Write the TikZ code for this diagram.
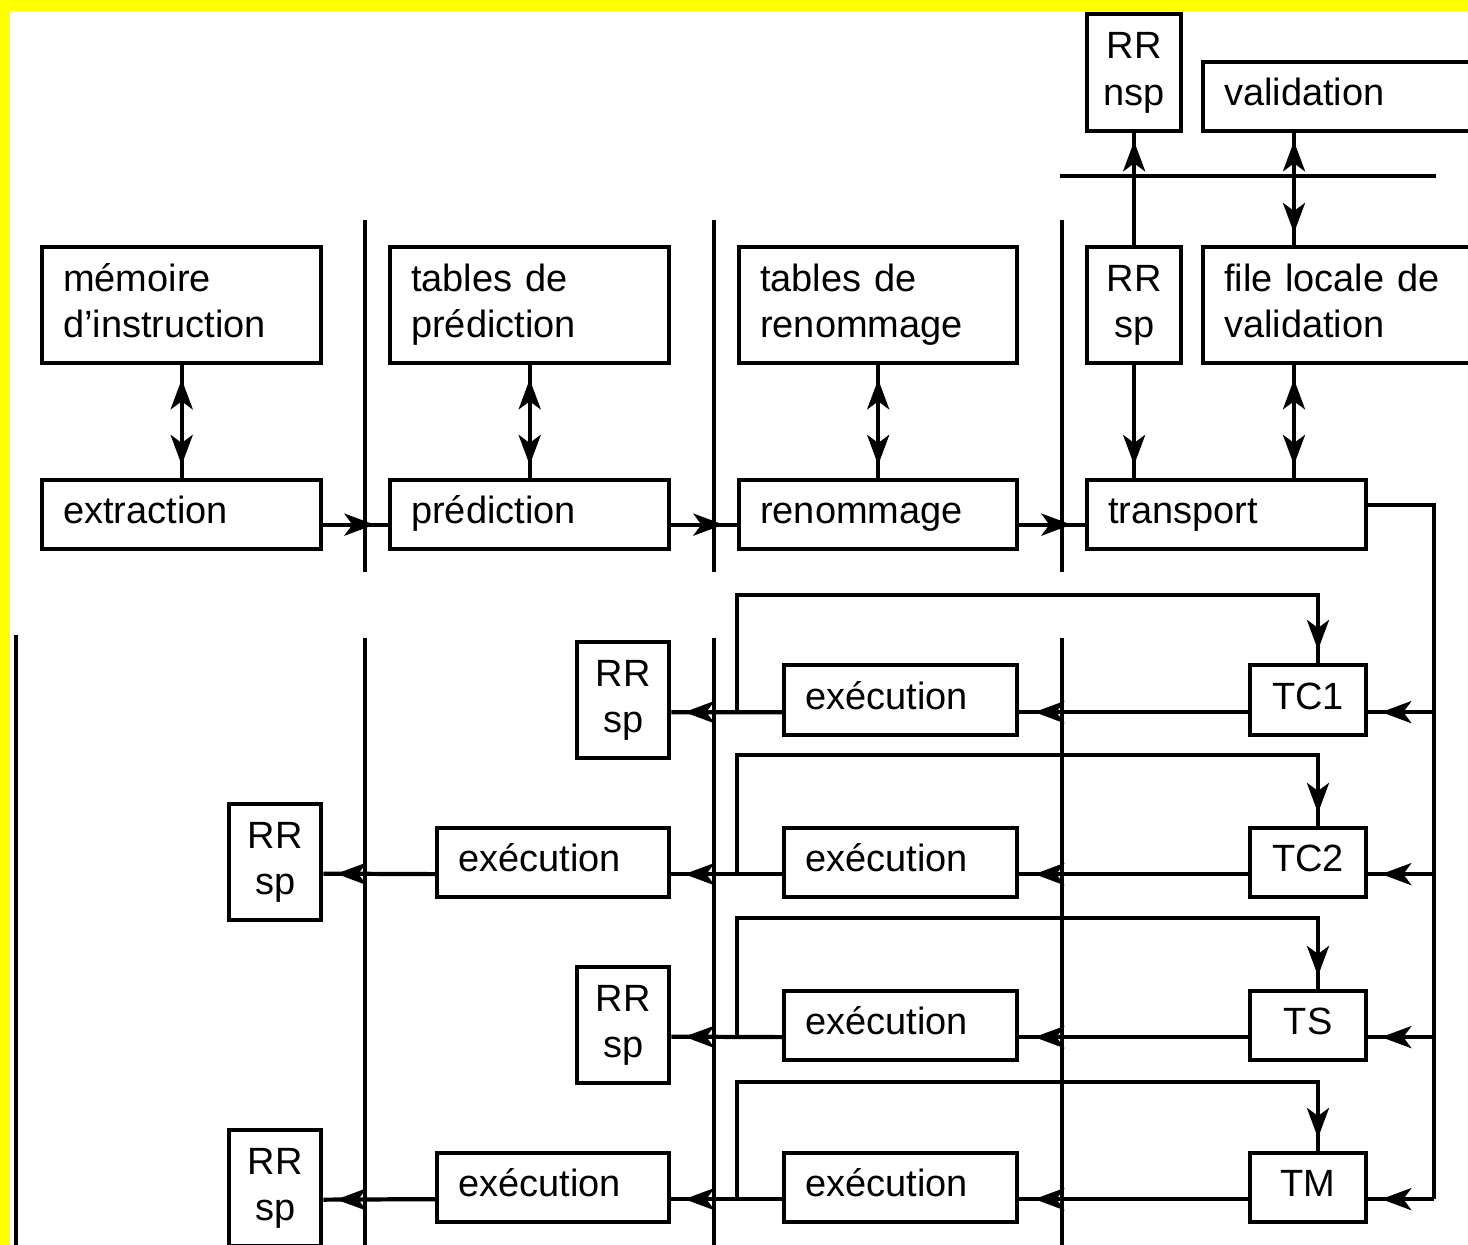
\documentclass[tikz,border=0pt]{standalone}
\usepackage{fontspec}
\setmainfont{Liberation Sans}
\usetikzlibrary{arrows.meta,decorations.markings}
\definecolor{frameyellow}{RGB}{255,255,0}

\begin{document}
\begin{tikzpicture}[x=0.01cm,y=-0.01cm,
  every node/.style={font=\fontsize{10.8pt}{13.3pt}\selectfont},
  wire/.style={line width=1.2pt},
  divider/.style={line width=1.1pt},
  blk/.style={draw, line width=1.2pt, anchor=north west, inner xsep=0.21cm, inner ysep=0pt, align=left},
  cbox/.style={draw, line width=1.2pt, anchor=north west, inner sep=0pt, align=center},
  tipend/.style={postaction={decorate,decoration={markings,
      mark=at position #1 with {\arrow{Stealth[length=0.3cm,width=0.22cm,inset=0.08cm]}}}}},
  bidir/.style 2 args={postaction={decorate,decoration={markings,
      mark=at position #1 with {\arrowreversed{Stealth[length=0.3cm,width=0.22cm,inset=0.08cm]}},
      mark=at position #2 with {\arrow{Stealth[length=0.3cm,width=0.22cm,inset=0.08cm]}}}}}
]
\useasboundingbox (0,0) rectangle (1468,1245);
\clip (0,0) rectangle (1468,1245);

% frame strips
\fill[frameyellow] (0,0) rectangle (1468,11);
\fill[frameyellow] (0,0) rectangle (10,1245);

% ---------- pipeline stage dividers ----------
\draw[divider] (365,220) -- (365,572);
\draw[divider] (714,220) -- (714,572);
\draw[divider] (1062,220) -- (1062,572);
\draw[divider] (1060,176) -- (1436,176);
\draw[divider] (16,635) -- (16,1245);
\draw[divider] (365,638) -- (365,1245);
\draw[divider] (714,638) -- (714,1245);
\draw[divider] (1062,638) -- (1062,1245);

% ---------- front end ----------
\node[cbox, minimum width=0.94cm, minimum height=1.17cm] (rrn) at (1085,12) {RR\strut\\nsp\strut};
\node[blk, minimum width=3cm, text width=2.58cm, minimum height=0.69cm] (valid) at (1201,60) {validation\strut};

\node[blk, minimum width=2.79cm, text width=2.37cm, minimum height=1.16cm] (mem) at (40,245) {mémoire\strut\\d'instruction\strut};
\node[blk, minimum width=2.79cm, text width=2.37cm, minimum height=1.16cm] (tpred) at (388,245) {tables de\strut\\prédiction\strut};
\node[blk, minimum width=2.78cm, text width=2.36cm, minimum height=1.16cm] (tren) at (737,245) {tables de\strut\\renommage\strut};
\node[cbox, minimum width=0.94cm, minimum height=1.16cm] (rrsp) at (1085,245) {RR\strut\\sp\strut};
\node[blk, minimum width=3cm, text width=2.58cm, minimum height=1.16cm] (file) at (1201,245) {file locale de\strut\\validation\strut};

\node[blk, minimum width=2.79cm, text width=2.37cm, minimum height=0.69cm] (ext) at (40,478) {extraction\strut};
\node[blk, minimum width=2.79cm, text width=2.37cm, minimum height=0.69cm] (pred) at (388,478) {prédiction\strut};
\node[blk, minimum width=2.78cm, text width=2.36cm, minimum height=0.69cm] (ren) at (737,478) {renommage\strut};
\node[blk, minimum width=2.79cm, text width=2.37cm, minimum height=0.69cm] (trans) at (1085,478) {transport\strut};

\coordinate (vx) at (1294,0);
\coordinate (bus) at (1434,0);

% table accesses
\draw[wire, bidir={0.14cm}{-0.13cm}] (mem.south) -- (ext.north);
\draw[wire, bidir={0.14cm}{-0.13cm}] (tpred.south) -- (pred.north);
\draw[wire, bidir={0.14cm}{-0.13cm}] (tren.south) -- (ren.north);
\draw[wire, tipend=-0.13cm] (rrsp.south) -- (rrsp.south |- trans.north);
\draw[wire, bidir={0.14cm}{-0.13cm}] (file.south -| vx) -- (trans.north -| vx);
\draw[wire, tipend=-0.08cm] (rrsp.north) -- (rrn.south);
\draw[wire, bidir={0.12cm}{-0.08cm}] (file.north -| vx) -- (valid.south -| vx);

% stage to stage
\draw[wire, tipend=0.51cm] ([yshift=-0.1cm]ext.east) -- ([yshift=-0.1cm]pred.west);
\draw[wire, tipend=0.52cm] ([yshift=-0.1cm]pred.east) -- ([yshift=-0.1cm]ren.west);
\draw[wire, tipend=0.52cm] ([yshift=-0.1cm]ren.east) -- ([yshift=-0.1cm]trans.west);

% ---------- back end ----------
\node[cbox, minimum width=0.92cm, minimum height=1.16cm] (rr1) at (575,640) {RR\strut\\sp\strut};
\node[blk, minimum width=2.33cm, text width=1.91cm, minimum height=0.70cm] (ex1b) at (782,663) {exécution\strut};
\node[cbox, minimum width=1.16cm, minimum height=0.70cm] (tc1) at (1248,663) {TC1\strut};

\node[cbox, minimum width=0.92cm, minimum height=1.16cm] (rr2) at (227,802) {RR\strut\\sp\strut};
\node[blk, minimum width=2.32cm, text width=1.90cm, minimum height=0.69cm] (ex2a) at (435,826) {exécution\strut};
\node[blk, minimum width=2.33cm, text width=1.91cm, minimum height=0.69cm] (ex2b) at (782,826) {exécution\strut};
\node[cbox, minimum width=1.16cm, minimum height=0.69cm] (tc2) at (1248,826) {TC2\strut};

\node[cbox, minimum width=0.92cm, minimum height=1.16cm] (rr3) at (575,965) {RR\strut\\sp\strut};
\node[blk, minimum width=2.33cm, text width=1.91cm, minimum height=0.69cm] (ex3b) at (782,989) {exécution\strut};
\node[cbox, minimum width=1.16cm, minimum height=0.69cm] (ts) at (1248,989) {TS\strut};

\node[cbox, minimum width=0.92cm, minimum height=1.16cm] (rr4) at (227,1128) {RR\strut\\sp\strut};
\node[blk, minimum width=2.32cm, text width=1.90cm, minimum height=0.69cm] (ex4a) at (435,1151) {exécution\strut};
\node[blk, minimum width=2.33cm, text width=1.91cm, minimum height=0.69cm] (ex4b) at (782,1151) {exécution\strut};
\node[cbox, minimum width=1.16cm, minimum height=0.69cm] (tm) at (1248,1151) {TM\strut};

% issue bus from transport
\draw[wire] ([yshift=0.1cm]trans.east) -| ([yshift=-0.115cm]tm.east -| bus);
\draw[wire, tipend=-0.13cm] ([yshift=-0.12cm]tc1.east -| bus) -- ([yshift=-0.12cm]tc1.east);
\draw[wire, tipend=-0.13cm] ([yshift=-0.115cm]tc2.east -| bus) -- ([yshift=-0.115cm]tc2.east);
\draw[wire, tipend=-0.13cm] ([yshift=-0.115cm]ts.east -| bus) -- ([yshift=-0.115cm]ts.east);
\draw[wire, tipend=-0.13cm] ([yshift=-0.115cm]tm.east -| bus) -- ([yshift=-0.115cm]tm.east);

% row 1
\draw[wire, tipend=-0.15cm] ([yshift=-0.12cm]tc1.west) -- ([yshift=-0.12cm]ex1b.east);
\draw[wire, tipend=-0.13cm] ([yshift=-0.12cm]ex1b.west) -- ([yshift=-0.12cm]rr1.east);
% row 2
\draw[wire, tipend=-0.15cm] ([yshift=-0.115cm]tc2.west) -- ([yshift=-0.115cm]ex2b.east);
\draw[wire, tipend=-0.13cm] ([yshift=-0.115cm]ex2b.west) -- ([yshift=-0.115cm]ex2a.east);
\draw[wire, tipend=-0.13cm] ([yshift=-0.115cm]ex2a.west) -- ([yshift=-0.115cm]rr2.east);
% row 3
\draw[wire, tipend=-0.15cm] ([yshift=-0.115cm]ts.west) -- ([yshift=-0.115cm]ex3b.east);
\draw[wire, tipend=-0.13cm] ([yshift=-0.115cm]ex3b.west) -- ([yshift=-0.115cm]rr3.east);
% row 4
\draw[wire, tipend=-0.15cm] ([yshift=-0.115cm]tm.west) -- ([yshift=-0.115cm]ex4b.east);
\draw[wire, tipend=-0.13cm] ([yshift=-0.115cm]ex4b.west) -- ([yshift=-0.115cm]ex4a.east);
\draw[wire, tipend=-0.13cm] ([yshift=-0.115cm]ex4a.west) -- ([yshift=-0.115cm]rr4.east);

% result forwarding back to the completion units
\coordinate (f1) at (737,710);
\coordinate (f2) at (737,872);
\coordinate (f3) at (737,1035);
\coordinate (f4) at (737,1197);
\coordinate (k1) at (1318,595);
\coordinate (k2) at (1318,755);
\coordinate (k3) at (1318,918);
\coordinate (k4) at (1318,1082);
\draw[wire, tipend=-0.13cm] (f1) |- (k1) -- (k1 |- tc1.north);
\draw[wire, tipend=-0.13cm] (f2) |- (k2) -- (k2 |- tc2.north);
\draw[wire, tipend=-0.13cm] (f3) |- (k3) -- (k3 |- ts.north);
\draw[wire, tipend=-0.13cm] (f4) |- (k4) -- (k4 |- tm.north);
\end{tikzpicture}
\end{document}
